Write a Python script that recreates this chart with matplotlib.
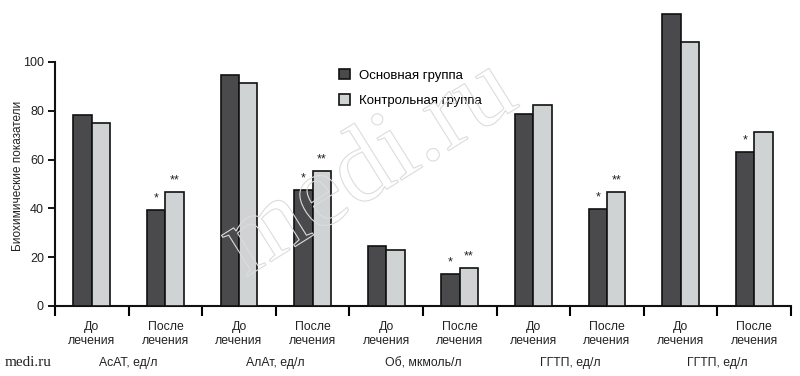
import matplotlib
matplotlib.use("Agg")
import matplotlib.pyplot as plt
import matplotlib.patheffects as pe
from matplotlib.patches import Rectangle
import numpy as np

plt.rcParams['font.family'] = ['Liberation Sans', 'DejaVu Sans']

phases = ["До\nлечения", "После\nлечения"] * 5
categories = ["АсАТ, ед/л", "АлАт, ед/л", "Об, мкмоль/л", "ГГТП, ед/л", "ГГТП, ед/л"]
main_group = [78.3, 39.3, 94.8, 47.5, 24.6, 13.1, 78.6, 39.6, 119.7, 63.2]
control_group = [75.0, 46.7, 91.5, 55.4, 23.0, 15.7, 82.4, 46.8, 108.3, 71.3]
main_marks = ["", "*", "", "*", "", "*", "", "*", "", "*"]
control_marks = ["", "**", "", "**", "", "**", "", "**", "", ""]
series_names = ["Основная группа", "Контрольная группа"]
yticks = [0, 20, 40, 60, 80, 100]

dark = "#4a4a4c"
light = "#d0d3d4"

fig = plt.figure(figsize=(8, 3.76), dpi=100)
ax = fig.add_axes([55/800, 1 - 306/376, (791 - 55)/800, 305/376])

n = len(main_group)
centers = np.arange(n) + 0.5
w = 0.25
ax.bar(centers - w/2, main_group, width=w, color=dark, edgecolor="#111111", linewidth=1.2, zorder=3)
ax.bar(centers + w/2, control_group, width=w, color=light, edgecolor="#111111", linewidth=1.2, zorder=3)

for c, v, m in zip(centers, main_group, main_marks):
    if m:
        ax.annotate(m, (c - w/2, v), xytext=(0, 4), textcoords="offset points",
                    ha="center", va="bottom", fontsize=9, color="#222222")
for c, v, m in zip(centers, control_group, control_marks):
    if m:
        ax.annotate(m, (c + w/2, v), xytext=(0, 4), textcoords="offset points",
                    ha="center", va="bottom", fontsize=9, color="#222222")

ax.set_xlim(0, n)
ax.set_ylim(0, 125)
ax.spines['top'].set_visible(False)
ax.spines['right'].set_visible(False)
ax.spines['left'].set_bounds(0, 100)
for s in ['left', 'bottom']:
    ax.spines[s].set_linewidth(1.5)
    ax.spines[s].set_color("#111111")

ax.set_yticks(yticks)
ax.set_yticklabels([str(t) for t in yticks], fontsize=9, color="#222222")
ax.tick_params(axis='y', length=5, width=1.3, direction='out', pad=3)

ax.set_xticks(np.arange(n + 1))
ax.set_xticklabels([])
ax.tick_params(axis='x', length=7, width=1.5, direction='out')
ax.set_xticks(centers, minor=True)
ax.set_xticklabels(phases, minor=True, fontsize=8.8, color="#222222", linespacing=1.2)
ax.tick_params(axis='x', which='minor', length=0, pad=11)

for i, cat in enumerate(categories):
    ax.text(2*i + 1, -0.187, cat, transform=ax.get_xaxis_transform(),
            ha="center", va="center", fontsize=8.8, color="#222222")

ax.set_ylabel("Биохимические показатели", fontsize=8.5, color="#222222")
ax.yaxis.set_label_coords(-0.042, 0.426)

# legend
h1 = Rectangle((0, 0), 1, 1, facecolor=dark, edgecolor="#111111", linewidth=1.2)
h2 = Rectangle((0, 0), 1, 1, facecolor=light, edgecolor="#111111", linewidth=1.2)
ax.legend([h1, h2], series_names, loc="upper left", bbox_to_anchor=(0.37, 0.815),
          frameon=False, fontsize=9.5, handlelength=0.8, handleheight=0.8,
          handletextpad=0.7, labelspacing=0.95)

fig.text(5/800, 1 - 363/376, "medi.ru", family="Liberation Serif", fontsize=11,
         ha="left", va="center", color="#222222")

# watermark
fig.text(370/800, 1 - 170/376, "medi.ru", family="Liberation Serif", fontsize=76,
         rotation=32, ha="center", va="center", color="none", zorder=10,
         path_effects=[pe.Stroke(linewidth=0.8, foreground="#dcdcdc")])

fig.savefig("out.png", dpi=100)
